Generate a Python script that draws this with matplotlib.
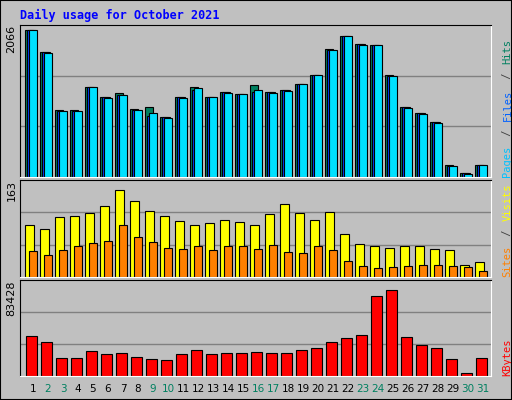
import matplotlib
matplotlib.use("Agg")
import matplotlib.pyplot as plt
from matplotlib.patches import Rectangle

days = list(range(1, 32))
weekend = [2, 3, 9, 10, 16, 17, 23, 24, 30, 31]
hits = [2066, 1756, 939, 939, 1263, 1122, 1183, 953, 986, 840, 1122, 1263, 1122, 1197, 1164, 1296,
        1197, 1225, 1310, 1423, 1789, 1972, 1869, 1855, 1423, 986, 901, 775, 164, 52, 164]
files = [2060, 1750, 930, 930, 1263, 1115, 1150, 945, 855, 835, 1115, 1220, 1122, 1190, 1164, 1190,
         1190, 1220, 1305, 1423, 1780, 1972, 1860, 1855, 1410, 980, 895, 765, 160, 50, 164]
pages = [2066, 1742, 925, 925, 1263, 1108, 1150, 940, 897, 826, 1108, 1249, 1122, 1183, 1164, 1225,
         1183, 1211, 1310, 1423, 1775, 1972, 1855, 1855, 1409, 972, 887, 761, 150, 38, 164]
visits = [97, 90, 112, 113, 120, 133, 163, 142, 124, 113, 104, 97, 101, 106, 103, 97,
          117, 136, 120, 106, 122, 80, 62, 58, 55, 58, 58, 53, 51, 23, 28]
sites = [48, 42, 51, 57, 64, 67, 97, 74, 66, 55, 53, 58, 51, 57, 58, 53,
         60, 46, 44, 57, 50, 30, 21, 16, 18, 21, 23, 23, 21, 19, 12]
kbytes = [38670, 33190, 17660, 17660, 24050, 21310, 22230, 18570, 16750, 15830, 21310, 24970, 21310,
          22230, 22230, 23140, 22230, 22230, 24970, 26790, 33190, 36840, 39580, 77030, 83428, 37760,
          29530, 26790, 16750, 3045, 17660]

W, H = 512, 400
fig = plt.figure(figsize=(W / 100, H / 100), dpi=100, facecolor="#c0c0c0")
fig.add_artist(Rectangle((0, 0), 1, 1, transform=fig.transFigure, fill=False, ec="black", lw=1.5))
fig.text(20 / W, 1 - 15 / H, "Daily usage for October 2021", color="#0000ff", fontsize=8.5,
         fontweight="bold", family="DejaVu Sans Mono", va="center")

x0, x1 = 20 / W, 491 / W

def mkax(top, bottom, ymax, label, rlabels):
    ax = fig.add_axes([x0, 1 - bottom / H, x1 - x0, (bottom - top) / H])
    ax.set_facecolor("#c0c0c0")
    ax.set_xlim(1 - 13 / 15, 31 + 8 / 15)
    ax.set_ylim(0, ymax)
    for f in (1 / 3, 2 / 3):
        ax.axhline(f * ymax, color="#808080", lw=1, zorder=0)
    ax.set_xticks([]); ax.set_yticks([])
    for s in ("left", "top"):
        ax.spines[s].set_color("black")
    for s in ("right", "bottom"):
        ax.spines[s].set_color("white")
    ax.text(-0.018, 1.0, label, transform=ax.transAxes, rotation=90, ha="center", va="top",
            fontsize=8, family="DejaVu Sans")
    # right labels
    y = 0.0
    for txt, col in rlabels:
        t = ax.text(1.035, y, txt, transform=ax.transAxes, rotation=90, ha="center", va="bottom",
                    fontsize=7.5, family="DejaVu Sans Mono", color=col)
        y += len(txt) * 0.047 * (150 / (bottom - top))
    return ax

a1 = mkax(25, 177, 2066 / 0.97, "2066",
          [("Pages", "#00c0ff"), (" / ", "#404040"), ("Files", "#0060ff"), (" / ", "#404040"), ("Hits", "#008060")])
a1.bar([d - 0.255 for d in days], hits, width=0.5, color="#008060", ec="black", lw=0.8)
a1.bar([d - 0.12 for d in days], files, width=0.5, color="#0040ff", ec="black", lw=0.8)
a1.bar([d + 0.01 for d in days], pages, width=0.5, color="#00e0ff", ec="black", lw=0.8)

a2 = mkax(180, 277, 163 / 0.9, "163",
          [("Sites", "#ff8000"), (" / ", "#404040"), ("Visits", "#ffff00")])
a2.bar([d - 0.23 for d in days], visits, width=0.56, color="#ffff00", ec="black", lw=0.8)
a2.bar([d + 0.0 for d in days], sites, width=0.5, color="#ff8000", ec="black", lw=0.8)

a3 = mkax(280, 376, 83428 / 0.9, "83428", [("KBytes", "#ff0000")])
a3.bar([d - 0.1 for d in days], kbytes, width=0.7, color="#ff0000", ec="black", lw=0.8)

for d in days:
    fig.text((33 + (d - 1) * 15) / W, 1 - 389 / H, str(d), ha="center", va="center", fontsize=7.5,
             color="#008060" if d in weekend else "black", family="DejaVu Sans")

fig.savefig("out.png", dpi=100, facecolor=fig.get_facecolor())
